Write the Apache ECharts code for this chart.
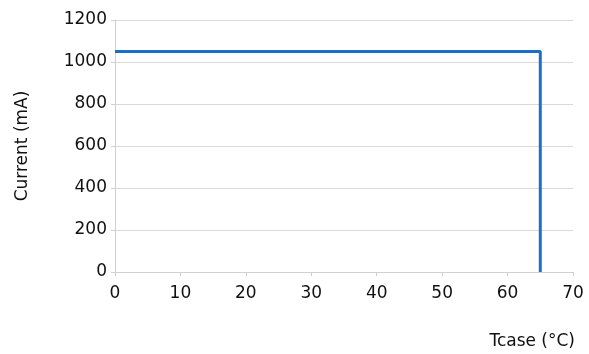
<!DOCTYPE html>
<html>
<head>
<meta charset="utf-8">
<script src="https://cdn.jsdelivr.net/npm/echarts@6/dist/echarts.min.js"></script>
<style>html,body{margin:0;padding:0;background:#fff}#c{width:589px;height:354px}</style>
</head>
<body>
<div id="c"></div>
<script>
const tcase = [0, 65, 65];
const current = [1050, 1050, 0];
const xTicks = [0, 10, 20, 30, 40, 50, 60, 70];
const yTicks = [0, 200, 400, 600, 800, 1000, 1200];

const chart = echarts.init(document.getElementById('c'), null, {renderer: 'canvas'});
const font = 'DejaVu Sans';
chart.setOption({
  animation: false,
  grid: {left: 115, right: 16, top: 20, bottom: 82, containLabel: false},
  xAxis: {
    type: 'value', min: xTicks[0], max: xTicks[xTicks.length - 1], interval: 10,
    name: 'Tcase (°C)', nameLocation: 'end', nameGap: 0,
    nameTextStyle: {fontFamily: font, fontSize: 17, color: '#111', align: 'right', verticalAlign: 'top', padding: [61, -2, 0, 0]},
    axisLine: {show: true, lineStyle: {color: '#d0d0d0', width: 1}},
    axisTick: {show: true, length: 4, lineStyle: {color: '#d0d0d0'}},
    axisLabel: {fontFamily: font, fontSize: 17, color: '#111', margin: 13, formatter: v => String(v)},
    splitLine: {show: false}
  },
  yAxis: {
    type: 'value', min: yTicks[0], max: yTicks[yTicks.length - 1], interval: 200,
    name: 'Current (mA)', nameLocation: 'middle', nameGap: 84, nameRotate: 90,
    nameTextStyle: {fontFamily: font, fontSize: 17, color: '#111'},
    axisLine: {show: true, lineStyle: {color: '#d0d0d0', width: 1}},
    axisTick: {show: true, length: 4, lineStyle: {color: '#d0d0d0'}},
    axisLabel: {fontFamily: font, fontSize: 17, color: '#111', margin: 8, formatter: v => String(v)},
    splitLine: {show: true, lineStyle: {color: '#d9d9d9', width: 1}}
  },
  series: [{
    type: 'line',
    data: tcase.map((x, i) => [x, current[i]]),
    symbol: 'none',
    lineStyle: {color: '#1a6fc6', width: 3},
    z: 5
  }]
});
</script>
</body>
</html>
